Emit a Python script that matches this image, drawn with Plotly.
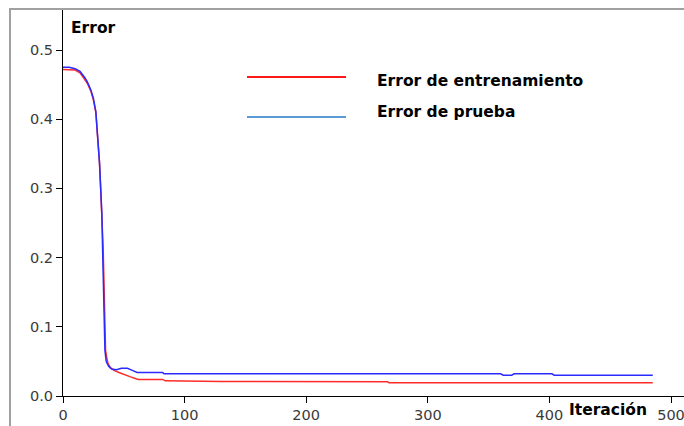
import plotly.graph_objects as go

# Training error per iteration
train_iter = [0, 5, 10, 14, 18, 20, 23, 25, 27, 28, 29, 30, 31, 32, 33, 33.5, 34, 34.5,
              35, 36, 37, 39, 42, 46, 50, 55, 60, 62, 82, 84, 130, 267, 268, 485]
train_err = [0.472, 0.472, 0.471, 0.467, 0.458, 0.452, 0.440, 0.428, 0.410, 0.389, 0.365,
             0.337, 0.298, 0.260, 0.215, 0.178, 0.140, 0.105, 0.066, 0.055, 0.047, 0.041,
             0.037, 0.034, 0.031, 0.028, 0.025, 0.024, 0.024, 0.022, 0.021, 0.0207, 0.019, 0.019]

# Test error per iteration
test_iter = [0, 5, 10, 14, 18, 20, 23, 25, 27, 28, 29, 30, 31, 32, 32.5, 33, 33.5, 34,
             34.5, 35.5, 37.5, 40, 44, 48, 53, 57, 61, 82, 83, 127, 128, 360, 362, 369,
             371, 402, 404, 410, 413, 485]
test_err = [0.475, 0.475, 0.473, 0.469, 0.460, 0.454, 0.442, 0.430, 0.411, 0.390, 0.366,
            0.338, 0.300, 0.262, 0.217, 0.180, 0.142, 0.104, 0.066, 0.050, 0.043, 0.039,
            0.038, 0.040, 0.040, 0.037, 0.034, 0.034, 0.032, 0.032, 0.032, 0.032, 0.030,
            0.030, 0.032, 0.032, 0.030, 0.030, 0.030, 0.030]

x_ticks = [0, 100, 200, 300, 400, 500]
y_ticks = [0.0, 0.1, 0.2, 0.3, 0.4, 0.5]

series_names = ["Error de entrenamiento", "Error de prueba"]
y_title = "Error"
x_title = "Iteración"

W, H = 684, 426
ML, MR, MT, MB = 63, 0, 10, 30
PW, PH = W - ML - MR, H - MT - MB


def px(x):
    return (x - ML) / PW


def py(y):
    return (H - MB - y) / PH


fig = go.Figure()
fig.add_trace(go.Scatter(x=train_iter, y=train_err, mode="lines", name=series_names[0],
                         line=dict(color="#ff2a2a", width=1.5), showlegend=False))
fig.add_trace(go.Scatter(x=test_iter, y=test_err, mode="lines", name=series_names[1],
                         line=dict(color="#2a2aff", width=1.5), showlegend=False))

tick_font = dict(family="DejaVu Sans", size=14.5, color="#3a3a3a")
bold_font = dict(family="DejaVu Sans", size=15.5, color="#000000")

fig.update_xaxes(range=[0, PW / 1.216], tickvals=x_ticks, ticks="outside", ticklen=6,
                 tickcolor="#000", showline=True, linecolor="#000", linewidth=1,
                 showgrid=False, zeroline=False, tickfont=tick_font,
                 ticklabeloverflow="allow")
fig.update_yaxes(range=[0, PH / 692.0], tickvals=y_ticks, tickformat=".1f", ticks="outside",
                 ticklen=6, tickcolor="#000", showline=True, linecolor="#000", linewidth=1,
                 showgrid=False, zeroline=False, tickfont=tick_font,
                 ticklabeloverflow="allow")

shapes = [
    # outer frame (top and left edges)
    dict(type="line", xref="paper", yref="paper", x0=px(9), x1=px(W + 2), y0=py(9), y1=py(9),
         line=dict(color="#a0a0a0", width=2)),
    dict(type="line", xref="paper", yref="paper", x0=px(10), x1=px(10), y0=py(8), y1=py(H + 2),
         line=dict(color="#a0a0a0", width=2)),
    # legend swatches
    dict(type="line", xref="paper", yref="paper", x0=px(247), x1=px(346), y0=py(77), y1=py(77),
         line=dict(color="#ff1a1a", width=2)),
    dict(type="line", xref="paper", yref="paper", x0=px(247), x1=px(346), y0=py(117), y1=py(117),
         line=dict(color="#5b9bd5", width=2)),
]

annotations = [
    dict(text=f"<b>{y_title}</b>", x=px(69), y=py(28), xref="paper", yref="paper",
         xanchor="left", yanchor="middle", showarrow=False, font=bold_font),
    dict(text=f"<b>{x_title}</b>", x=px(567), y=py(410), xref="paper", yref="paper",
         xanchor="left", yanchor="middle", showarrow=False, font=bold_font),
    dict(text=f"<b>{series_names[0]}</b>", x=px(375), y=py(81), xref="paper", yref="paper",
         xanchor="left", yanchor="middle", showarrow=False, font=bold_font),
    dict(text=f"<b>{series_names[1]}</b>", x=px(375), y=py(112), xref="paper", yref="paper",
         xanchor="left", yanchor="middle", showarrow=False, font=bold_font),
]

fig.update_layout(width=W, height=H, margin=dict(l=ML, r=MR, t=MT, b=MB),
                  paper_bgcolor="white", plot_bgcolor="white", shapes=shapes,
                  annotations=annotations, showlegend=False)

fig.write_html("out.html")
